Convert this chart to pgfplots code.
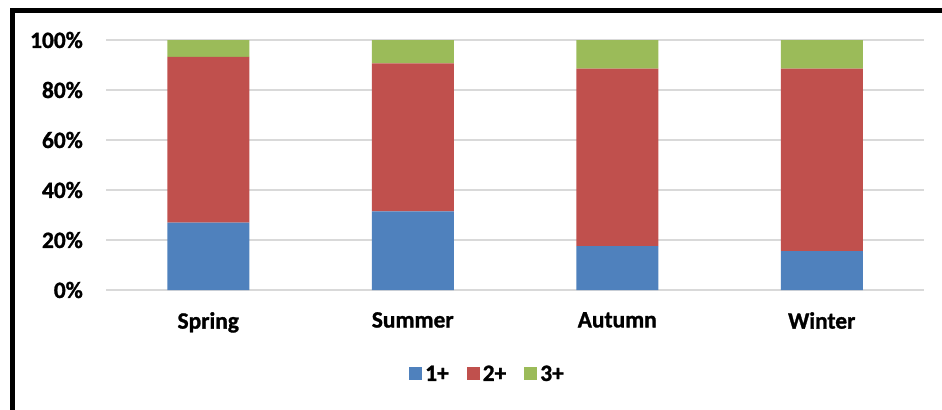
\documentclass[border=0pt]{standalone}
\usepackage{pgfplots}
\pgfplotsset{compat=1.18}
\usepackage{fontspec}
\setmainfont{Carlito}
\newfontfamily\heavy[FakeBold=1.2]{Carlito Bold}
\definecolor{c1}{HTML}{4F81BD}
\definecolor{c2}{HTML}{C0504D}
\definecolor{c3}{HTML}{9BBB59}
\definecolor{gridc}{HTML}{D9D9D9}
\newcommand{\lbl}{\fontsize{23.5}{27}\selectfont\heavy}
\begin{document}
\begin{tikzpicture}
\useasboundingbox (0,0) rectangle (942bp,-410bp);
\begin{scope}
\clip (0,0) rectangle (942bp,-410bp);
\draw[line width=5.5bp] (12.5bp,-10.5bp) rectangle (960bp,-430bp);
\end{scope}
\begin{axis}[
  at={(106bp,-290bp)}, anchor=south west,
  scale only axis, width=818bp, height=250bp,
  ybar stacked, bar width=82bp,
  xmin=-0.5, xmax=3.5, ymin=0, ymax=100,
  xtick={0,1,2,3}, xticklabels={Spring,Summer,Autumn,Winter},
  ytick={0,20,40,60,80,100},
  yticklabel={\pgfmathprintnumber{\tick}\%},
  /pgf/number format/assume math mode=true,
  axis line style={draw=none},
  major tick length=0pt,
  ymajorgrids,
  grid style={line width=2.5bp, color=gridc},
  yticklabel style={font=\lbl, anchor=east, inner sep=0pt, xshift=-23bp},
  xticklabel style={font=\lbl, anchor=north, inner sep=0pt, yshift=-22bp},
  legend style={at={(0.467,-0.336)}, anchor=center, draw=none, fill=none,
    font=\lbl, legend columns=-1,
    /tikz/every even column/.append style={column sep=15bp},
    nodes={inner sep=3bp}},
  legend image code/.code={\fill[#1] (0bp,-6bp) rectangle (13bp,7bp);},
]
\addplot[fill=c1, draw=none] coordinates {(0,27.0) (1,31.5) (2,17.6) (3,15.6)};
\addplot[fill=c2, draw=none] coordinates {(0,66.3) (1,59.2) (2,71.0) (3,73.0)};
\addplot[fill=c3, draw=none] coordinates {(0,6.7) (1,9.3) (2,11.4) (3,11.4)};
\legend{1+,2+,3+}
\end{axis}
\end{tikzpicture}
\end{document}
